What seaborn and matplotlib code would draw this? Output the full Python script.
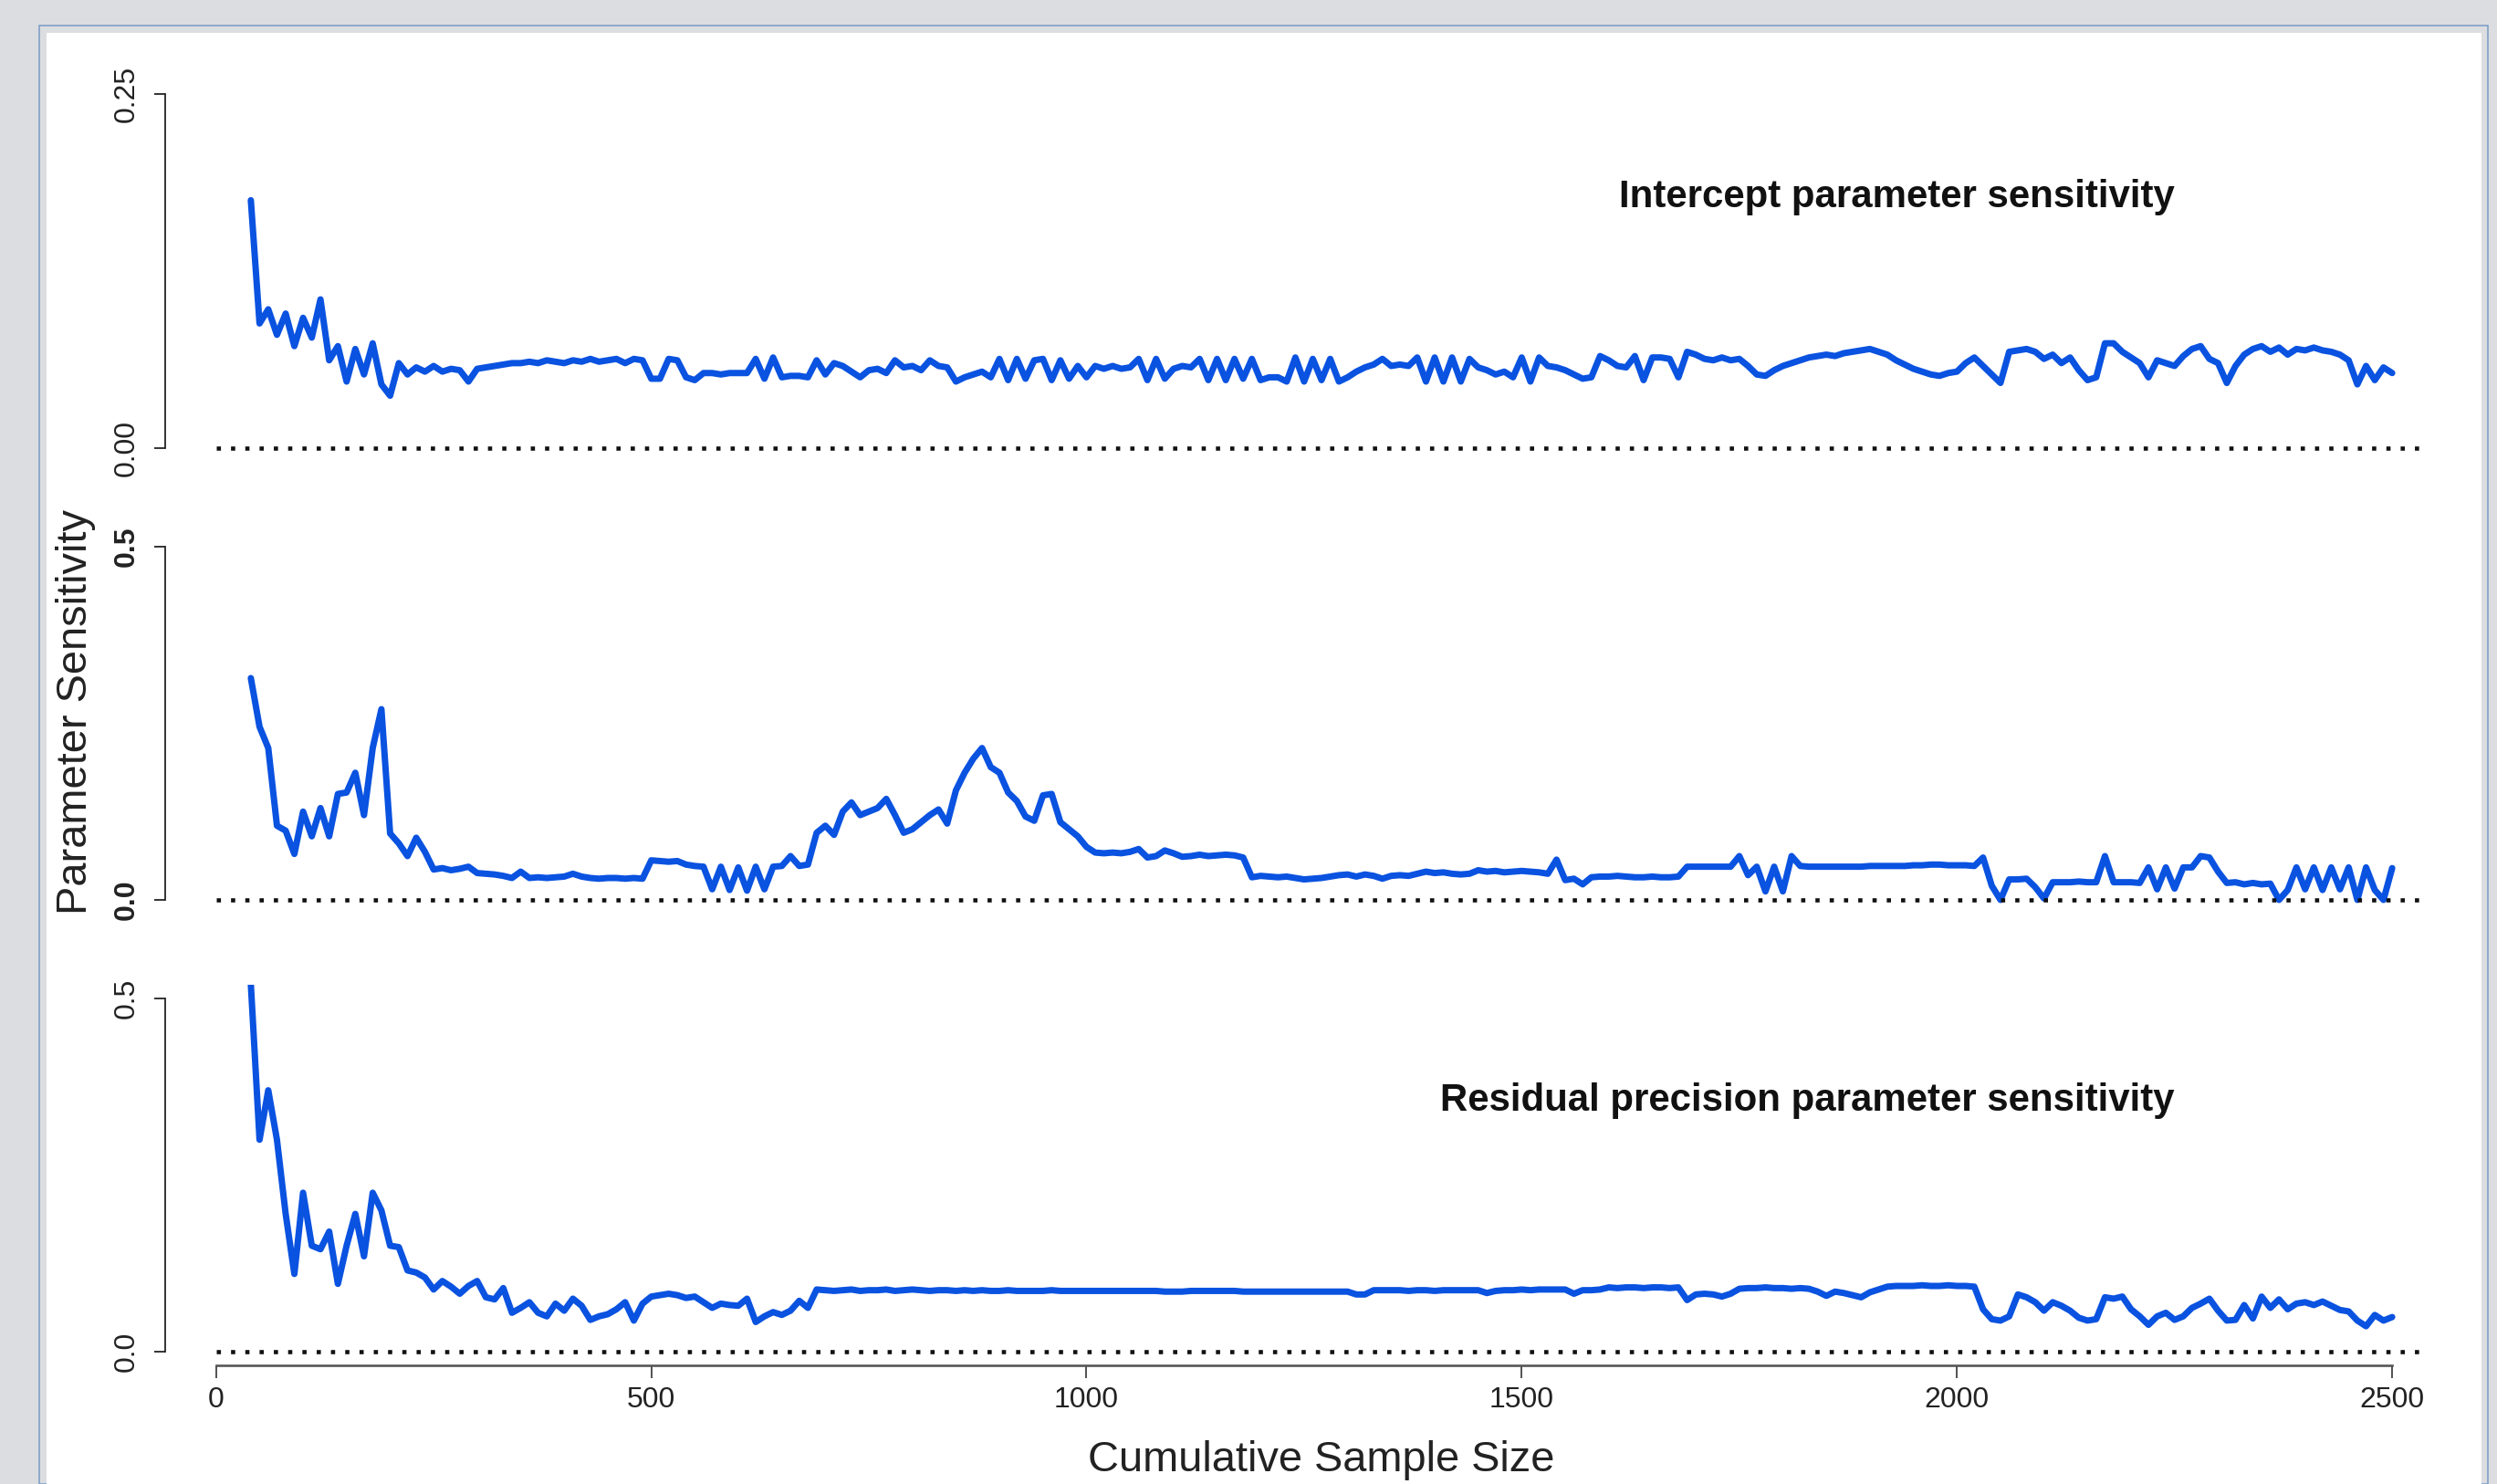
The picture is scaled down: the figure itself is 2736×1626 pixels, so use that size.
import numpy as np
import matplotlib
matplotlib.use("Agg")
import matplotlib.pyplot as plt
from matplotlib.patches import Rectangle
import seaborn as sns

# ---------------------------------------------------------------- data
sample_size = np.arange(40, 2501, 10)

intercept_sens = [
    0.175, 0.088, 0.098, 0.080, 0.095, 0.072, 0.092, 0.078, 0.105, 0.062,   # 40-130
    0.072, 0.047, 0.070, 0.052, 0.074, 0.045, 0.037, 0.060, 0.052, 0.057,   # 140-230
    0.054, 0.058, 0.054, 0.056, 0.055, 0.047, 0.056, 0.057, 0.058, 0.059,   # 240-330
    0.060, 0.060, 0.061, 0.060, 0.062, 0.061, 0.060, 0.062, 0.061, 0.063,   # 340-430
    0.061, 0.062, 0.063, 0.060, 0.063, 0.062, 0.049, 0.049, 0.063, 0.062,   # 440-530
    0.050, 0.048, 0.053, 0.053, 0.052, 0.053, 0.053, 0.053, 0.063, 0.049,   # 540-630
    0.064, 0.050, 0.051, 0.051, 0.050, 0.062, 0.052, 0.060, 0.058, 0.054,   # 640-730
    0.050, 0.055, 0.056, 0.053, 0.062, 0.057, 0.058, 0.055, 0.062, 0.058,   # 740-830
    0.057, 0.047, 0.050, 0.052, 0.054, 0.050, 0.063, 0.048, 0.063, 0.049,   # 840-930
    0.062, 0.063, 0.048, 0.062, 0.049, 0.058, 0.050, 0.058, 0.056, 0.058,   # 940-1030
    0.056, 0.057, 0.063, 0.048, 0.063, 0.049, 0.056, 0.058, 0.057, 0.063,   # 1040-1130
    0.048, 0.063, 0.048, 0.063, 0.049, 0.063, 0.048, 0.050, 0.050, 0.047,   # 1140-1230
    0.064, 0.047, 0.063, 0.048, 0.063, 0.047, 0.050, 0.054, 0.057, 0.059,   # 1240-1330
    0.063, 0.058, 0.059, 0.058, 0.064, 0.047, 0.064, 0.047, 0.064, 0.047,   # 1340-1430
    0.063, 0.057, 0.055, 0.052, 0.054, 0.050, 0.064, 0.047, 0.064, 0.058,   # 1440-1530
    0.057, 0.055, 0.052, 0.049, 0.050, 0.065, 0.062, 0.058, 0.057, 0.065,   # 1540-1630
    0.048, 0.064, 0.064, 0.063, 0.050, 0.068, 0.066, 0.063, 0.062, 0.064,   # 1640-1730
    0.062, 0.063, 0.058, 0.052, 0.051, 0.055, 0.058, 0.060, 0.062, 0.064,   # 1740-1830
    0.065, 0.066, 0.065, 0.067, 0.068, 0.069, 0.070, 0.068, 0.066, 0.062,   # 1840-1930
    0.059, 0.056, 0.054, 0.052, 0.051, 0.053, 0.054, 0.060, 0.064, 0.058,   # 1940-2030
    0.052, 0.046, 0.068, 0.069, 0.070, 0.068, 0.063, 0.066, 0.060, 0.064,   # 2040-2130
    0.055, 0.048, 0.050, 0.074, 0.074, 0.068, 0.064, 0.060, 0.050, 0.062,   # 2140-2230
    0.060, 0.058, 0.065, 0.070, 0.072, 0.063, 0.060, 0.046, 0.058, 0.066,   # 2240-2330
    0.070, 0.072, 0.068, 0.071, 0.066, 0.070, 0.069, 0.071, 0.069, 0.068,   # 2340-2430
    0.066, 0.062, 0.045, 0.058, 0.048, 0.057, 0.053,                        # 2440-2500
]

slope_sens = [
    0.314, 0.245, 0.215, 0.105, 0.098, 0.065, 0.125, 0.090, 0.130, 0.090,   # 40-130
    0.150, 0.152, 0.180, 0.120, 0.215, 0.270, 0.094, 0.080, 0.062, 0.088,   # 140-230
    0.068, 0.043, 0.045, 0.042, 0.044, 0.047, 0.038, 0.037, 0.036, 0.034,   # 240-330
    0.031, 0.040, 0.031, 0.032, 0.031, 0.032, 0.033, 0.037, 0.033, 0.031,   # 340-430
    0.030, 0.031, 0.031, 0.030, 0.031, 0.030, 0.056, 0.055, 0.054, 0.055,   # 440-530
    0.050, 0.048, 0.047, 0.015, 0.047, 0.014, 0.046, 0.013, 0.047, 0.015,   # 540-630
    0.047, 0.048, 0.062, 0.048, 0.050, 0.095, 0.105, 0.092, 0.125, 0.138,   # 640-730
    0.120, 0.125, 0.130, 0.143, 0.120, 0.095, 0.100, 0.110, 0.120, 0.128,   # 740-830
    0.108, 0.155, 0.180, 0.200, 0.215, 0.188, 0.180, 0.152, 0.140, 0.118,   # 840-930
    0.112, 0.148, 0.150, 0.110, 0.100, 0.090, 0.075, 0.067, 0.066, 0.067,   # 940-1030
    0.066, 0.068, 0.072, 0.060, 0.062, 0.070, 0.066, 0.061, 0.062, 0.064,   # 1040-1130
    0.062, 0.063, 0.064, 0.063, 0.060, 0.032, 0.034, 0.033, 0.032, 0.033,   # 1140-1230
    0.031, 0.029, 0.030, 0.031, 0.033, 0.035, 0.036, 0.033, 0.036, 0.034,   # 1240-1330
    0.030, 0.034, 0.035, 0.034, 0.037, 0.040, 0.038, 0.039, 0.037, 0.036,   # 1340-1430
    0.037, 0.042, 0.040, 0.041, 0.039, 0.040, 0.041, 0.040, 0.039, 0.037,   # 1440-1530
    0.057, 0.028, 0.030, 0.022, 0.032, 0.033, 0.033, 0.034, 0.033, 0.032,   # 1540-1630
    0.032, 0.033, 0.032, 0.032, 0.033, 0.047, 0.047, 0.047, 0.047, 0.047,   # 1640-1730
    0.047, 0.062, 0.035, 0.047, 0.012, 0.047, 0.012, 0.062, 0.048, 0.047,   # 1740-1830
    0.047, 0.047, 0.047, 0.047, 0.047, 0.047, 0.048, 0.048, 0.048, 0.048,   # 1840-1930
    0.048, 0.049, 0.049, 0.050, 0.050, 0.049, 0.049, 0.049, 0.048, 0.060,   # 1940-2030
    0.020, 0.000, 0.029, 0.029, 0.030, 0.018, 0.002, 0.025, 0.025, 0.025,   # 2040-2130
    0.026, 0.025, 0.025, 0.062, 0.025, 0.025, 0.025, 0.024, 0.046, 0.015,   # 2140-2230
    0.046, 0.016, 0.046, 0.046, 0.062, 0.060, 0.040, 0.024, 0.025, 0.022,   # 2240-2330
    0.024, 0.022, 0.023, 0.000, 0.014, 0.046, 0.015, 0.046, 0.014, 0.046,   # 2340-2430
    0.015, 0.046, 0.000, 0.046, 0.014, 0.000, 0.045,                        # 2440-2500
]

precision_sens = [
    0.520, 0.300, 0.370, 0.300, 0.195, 0.110, 0.225, 0.150, 0.145, 0.170,   # 40-130
    0.096, 0.150, 0.195, 0.135, 0.225, 0.200, 0.150, 0.148, 0.115, 0.112,   # 140-230
    0.105, 0.088, 0.100, 0.092, 0.082, 0.093, 0.100, 0.077, 0.074, 0.090,   # 240-330
    0.055, 0.062, 0.070, 0.055, 0.050, 0.068, 0.058, 0.075, 0.065, 0.045,   # 340-430
    0.050, 0.053, 0.060, 0.070, 0.044, 0.068, 0.078, 0.080, 0.082, 0.080,   # 440-530
    0.076, 0.078, 0.070, 0.062, 0.068, 0.066, 0.065, 0.075, 0.042, 0.050,   # 540-630
    0.056, 0.052, 0.058, 0.072, 0.062, 0.088, 0.087, 0.086, 0.087, 0.088,   # 640-730
    0.086, 0.087, 0.087, 0.088, 0.086, 0.087, 0.088, 0.087, 0.086, 0.087,   # 740-830
    0.087, 0.086, 0.087, 0.086, 0.087, 0.086, 0.086, 0.087, 0.086, 0.086,   # 840-930
    0.086, 0.086, 0.087, 0.086, 0.086, 0.086, 0.086, 0.086, 0.086, 0.086,   # 940-1030
    0.086, 0.086, 0.086, 0.086, 0.086, 0.085, 0.085, 0.085, 0.086, 0.086,   # 1040-1130
    0.086, 0.086, 0.086, 0.086, 0.085, 0.085, 0.085, 0.085, 0.085, 0.085,   # 1140-1230
    0.085, 0.085, 0.085, 0.085, 0.085, 0.085, 0.085, 0.081, 0.081, 0.087,   # 1240-1330
    0.087, 0.087, 0.087, 0.086, 0.087, 0.087, 0.086, 0.087, 0.087, 0.087,   # 1340-1430
    0.087, 0.087, 0.083, 0.086, 0.087, 0.087, 0.088, 0.087, 0.088, 0.088,   # 1440-1530
    0.088, 0.088, 0.082, 0.087, 0.087, 0.088, 0.091, 0.090, 0.091, 0.091,   # 1540-1630
    0.090, 0.091, 0.091, 0.090, 0.091, 0.073, 0.081, 0.082, 0.081, 0.078,   # 1640-1730
    0.082, 0.089, 0.090, 0.090, 0.091, 0.090, 0.090, 0.089, 0.090, 0.089,   # 1740-1830
    0.085, 0.079, 0.085, 0.083, 0.080, 0.077, 0.084, 0.088, 0.092, 0.093,   # 1840-1930
    0.093, 0.093, 0.094, 0.093, 0.093, 0.094, 0.093, 0.093, 0.092, 0.060,   # 1940-2030
    0.046, 0.044, 0.050, 0.081, 0.077, 0.070, 0.058, 0.070, 0.065, 0.058,   # 2040-2130
    0.048, 0.044, 0.046, 0.077, 0.075, 0.078, 0.060, 0.050, 0.038, 0.050,   # 2140-2230
    0.055, 0.045, 0.050, 0.062, 0.068, 0.075, 0.058, 0.044, 0.045, 0.066,   # 2240-2330
    0.047, 0.078, 0.062, 0.074, 0.060, 0.068, 0.070, 0.066, 0.071, 0.065,   # 2340-2430
    0.059, 0.057, 0.044, 0.036, 0.052, 0.044, 0.049,                        # 2440-2500
]

series = [intercept_sens, slope_sens, precision_sens]
panel_titles = ["Intercept parameter sensitivity", None,
                "Residual precision parameter sensitivity"]
y_tick_values = [[0.0, 0.25], [0.0, 0.5], [0.0, 0.5]]
y_tick_labels = [["0.00", "0.25"], ["0.0", "0.5"], ["0.0", "0.5"]]
y_tick_bold = [False, True, False]
x_tick_values = [0, 500, 1000, 1500, 2000, 2500]
x_tick_labels = ["0", "500", "1000", "1500", "2000", "2500"]
baseline_span = [0, 2540]
title_anchor = [(2250, 0.177), None, (2250, 0.355)]

# ---------------------------------------------------------------- style
sns.set_style("white")
plt.rcParams["font.family"] = ["Liberation Sans", "DejaVu Sans"]

W, H = 2736, 1626
DPI = 100
LINE_BLUE = "#0A52E0"
PT = 72.0 / DPI  # points per pixel

fig = plt.figure(figsize=(W / DPI, H / DPI), dpi=DPI)
fig.patch.set_facecolor("#dcdde0")

# window frame and white canvas
fig.add_artist(Rectangle((43 / W, 0), (2726 - 43) / W, (H - 28) / H,
                         transform=fig.transFigure, facecolor="#dcdde0",
                         edgecolor="#7c9ec8", linewidth=1.6 * PT, zorder=-3))
fig.add_artist(Rectangle((51 / W, 0), (2719 - 51) / W, (H - 36) / H,
                         transform=fig.transFigure, facecolor="white",
                         edgecolor="none", zorder=-2))

# plot-region geometry (pixel rows for value 0 and top tick)
x_left_px, x_right_px = 181, 2715
xlim = (-58.4, 2598.4)
panel_rows = [(491, 103), (986, 599), (1481, 1094)]

for i, (vals, (zero_px, top_px)) in enumerate(zip(series, panel_rows)):
    ymax = y_tick_values[i][-1]
    scale = (zero_px - top_px) / ymax
    lo, hi = -0.04 * ymax, 1.04 * ymax
    bottom_px = zero_px - lo * scale
    upper_px = top_px - (hi - ymax) * scale
    ax = fig.add_axes([x_left_px / W, 1 - bottom_px / H,
                       (x_right_px - x_left_px) / W, (bottom_px - upper_px) / H])
    ax.set_facecolor("none")

    sns.lineplot(x=sample_size, y=vals, ax=ax, color=LINE_BLUE,
                 linewidth=7 * PT, estimator=None, sort=False)
    ax.plot(baseline_span, [0, 0], color="#111111", linewidth=4.6 * PT,
            linestyle=(0, (1, 2.4)), dash_capstyle="butt")

    ax.set_xlim(*xlim)
    ax.set_ylim(lo, hi)
    ax.set_xlabel("")
    ax.set_ylabel("")

    for side in ("top", "right"):
        ax.spines[side].set_visible(False)
    ax.spines["left"].set_bounds(0, ymax)
    ax.spines["left"].set_linewidth(1.8 * PT)
    ax.spines["left"].set_color("#222222")

    ax.set_yticks(y_tick_values[i])
    ax.set_yticklabels(y_tick_labels[i], rotation=90, va="center",
                       fontsize=32 * PT,
                       fontweight="bold" if y_tick_bold[i] else "normal",
                       color="#222222")
    ax.tick_params(axis="y", left=True, length=12 * PT, width=1.8 * PT,
                   color="#222222", pad=15 * PT)

    if i == 2:
        ax.spines["bottom"].set_bounds(0, 2500)
        ax.spines["bottom"].set_linewidth(2.6 * PT)
        ax.spines["bottom"].set_color("#555555")
        ax.set_xticks(x_tick_values)
        ax.set_xticklabels(x_tick_labels, fontsize=32 * PT, color="#222222")
        ax.tick_params(axis="x", bottom=True, length=14 * PT, width=2.0 * PT,
                       color="#555555", pad=9 * PT)
    else:
        ax.spines["bottom"].set_visible(False)
        ax.set_xticks([])

    if panel_titles[i]:
        tx, ty = title_anchor[i]
        ax.text(tx, ty, panel_titles[i], ha="right", va="center",
                fontsize=42 * PT, fontweight="bold", color="#111111")

fig.text(83 / W, 1 - 780 / H, "Parameter Sensitivity", rotation=90,
         ha="center", va="center", fontsize=47 * PT, color="#222222")
fig.text(1448 / W, 1 - 1600 / H, "Cumulative Sample Size",
         ha="center", va="center", fontsize=47 * PT, color="#222222")

fig.savefig("out.png", dpi=DPI, facecolor=fig.get_facecolor())
